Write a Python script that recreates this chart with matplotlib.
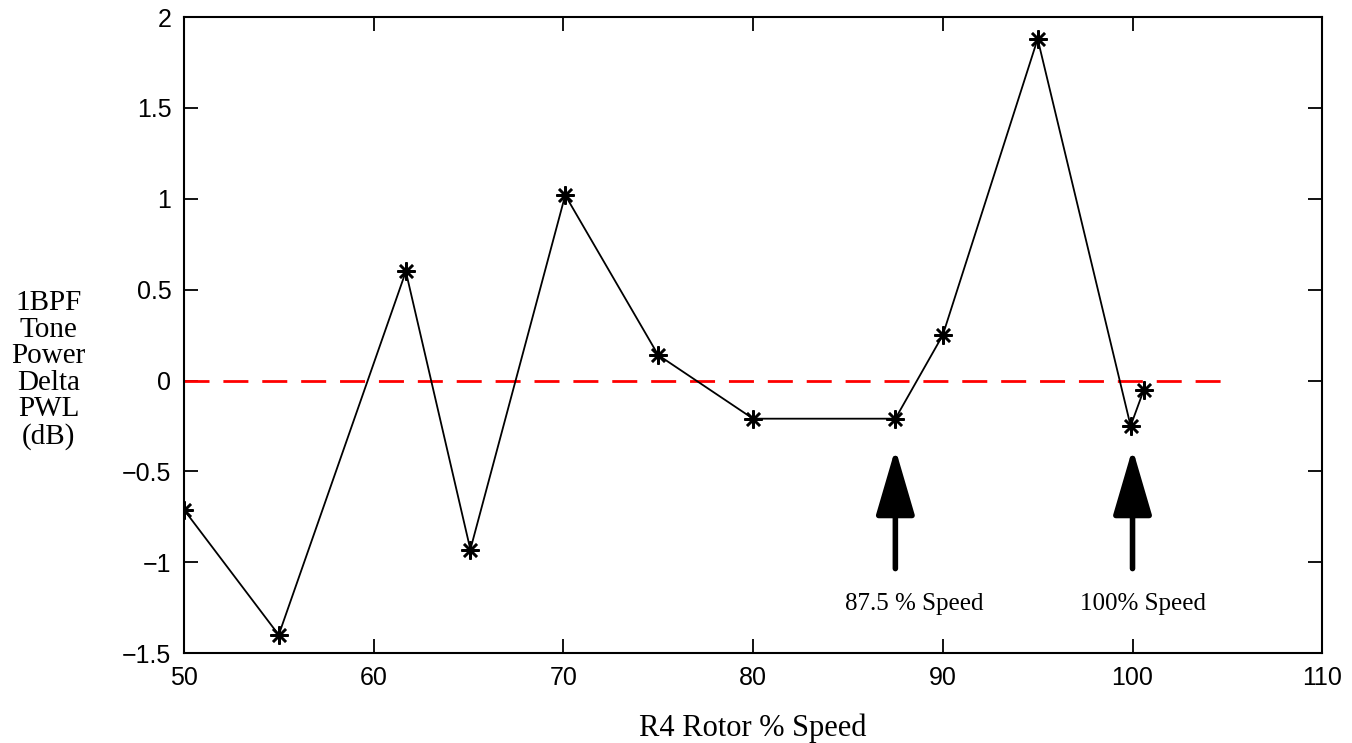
import matplotlib
matplotlib.use("Agg")
import matplotlib.pyplot as plt

# data
speed = [50, 55, 61.7, 65.1, 70.1, 75, 80, 87.5, 90, 95, 99.9, 100.6]
delta_db = [-0.71, -1.40, 0.60, -0.93, 1.02, 0.14, -0.21, -0.21, 0.25, 1.88, -0.25, -0.05]
ref_x = [50, 105]
ref_y = [0, 0]
marks = [87.5, 100]
mark_labels = ["87.5 % Speed", "100% Speed"]
mark_text_x = [88.5, 100.55]

serif = "Liberation Serif"
sans = "Liberation Sans"

fig = plt.figure(figsize=(13.52, 7.43), dpi=100)
ax = fig.add_axes([0.136, 0.121, 0.842, 0.856])

ax.plot(ref_x, ref_y, color="red", lw=2, dashes=(9, 5))
ax.plot(speed, delta_db, color="black", lw=1.3, marker=(8, 2, 0), ms=13, mew=1.8)

# arrows pointing at the two reference speeds
for x, lab, tx in zip(marks, mark_labels, mark_text_x):
    ax.annotate("", xy=(x, -0.375), xytext=(x, -1.035),
                arrowprops=dict(arrowstyle="-|>,head_length=4.1,head_width=1.2",
                                lw=4, color="black", shrinkA=0, shrinkB=0))
    ax.text(tx, -1.23, lab, family=serif, fontsize=18, ha="center", va="center")

ax.set_xlim(50, 110)
ax.set_ylim(-1.5, 2)
ax.set_xticks(range(50, 111, 10))
ax.set_yticks([-1.5, -1, -0.5, 0, 0.5, 1, 1.5, 2])
ax.set_yticklabels(["\u22121.5", "\u22121", "\u22120.5", "0", "0.5", "1", "1.5", "2"])
ax.tick_params(direction="in", length=10, width=1.3, labelsize=18, pad=9,
               top=True, right=True)
for t in ax.get_xticklabels() + ax.get_yticklabels():
    t.set_family(sans)
for s in ax.spines.values():
    s.set_linewidth(1.5)

ax.set_xlabel("R4 Rotor % Speed", family=serif, fontsize=22, labelpad=17)
fig.text(0.036, 0.502, "1BPF\nTone\nPower\nDelta\nPWL\n(dB)", family=serif,
         fontsize=21, ha="center", va="center", linespacing=1.03)

fig.savefig("out.png", dpi=100)
